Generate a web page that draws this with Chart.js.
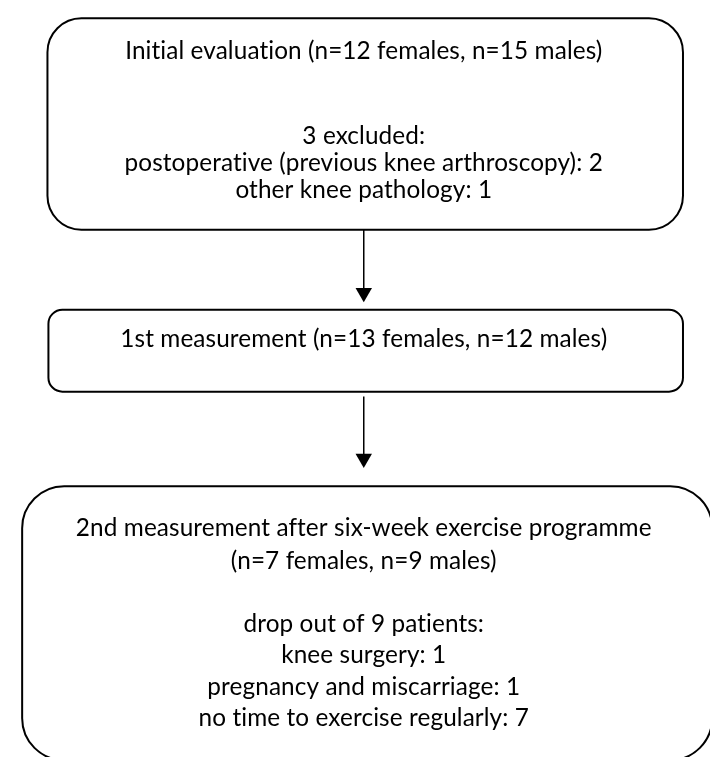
<!DOCTYPE html>
<html>
<head>
<meta charset="utf-8">
<script src="https://cdn.jsdelivr.net/npm/chart.js@4/dist/chart.umd.min.js"></script>
<style>
  html, body { margin: 0; padding: 0; background: #ffffff; }
  #wrap { width: 710px; height: 757px; }
</style>
</head>
<body>
<div id="wrap"><canvas id="c" width="710" height="757"></canvas></div>
<script>
// ---- content (data) ----
const stageTitles = [
  ["Initial evaluation (n=12 females, n=15 males)"],
  ["1st measurement (n=13 females, n=12 males)"],
  ["2nd measurement after six-week exercise programme", "(n=7 females, n=9 males)"]
];
const stageNotes = [
  ["3 excluded:", "postoperative (previous knee arthroscopy): 2", "other knee pathology: 1"],
  [],
  ["drop out of 9 patients:", "knee surgery: 1", "pregnancy and miscarriage: 1", "no time to exercise regularly: 7"]
];

// ---- layout (in chart units of a 710 x 757 layout grid) ----
const layout = [
  { left: 39, right: 692, top: 9,   bottom: 226, radius: 34, titleY: 43,  titleStep: 34, notesY: 130, notesStep: 27.5 },
  { left: 40, right: 692, top: 308, bottom: 392, radius: 14, titleY: 338, titleStep: 34, notesY: 0,   notesStep: 0 },
  { left: 13, right: 722, top: 489, bottom: 770, radius: 42, titleY: 532, titleStep: 34, notesY: 630, notesStep: 32.3 }
];
const centerX = 364;
const arrowGapEnd = [8, 19];
const arrowGapStart = [0, 5];
const arrowHeadR = 9.5;
const refLineWidth = 487; // width of the first title line in layout units

const arrowDatasets = [];
for (let i = 0; i < layout.length - 1; i++) {
  const y0 = layout[i].bottom + arrowGapStart[i];
  const tip = layout[i + 1].top - arrowGapEnd[i];
  arrowDatasets.push({
    data: [{ x: centerX, y: y0 }, { x: centerX, y: tip - arrowHeadR }],
    showLine: true,
    borderColor: '#000',
    borderWidth: 1.5,
    pointRadius: [0, arrowHeadR],
    pointHoverRadius: [0, arrowHeadR],
    pointStyle: 'triangle',
    rotation: 180,
    pointBackgroundColor: '#000',
    pointBorderColor: '#000',
    pointBorderWidth: 0,
    clip: false
  });
}

const FAMILY = 'Lato, "Open Sans", sans-serif';

const boxPlugin = {
  id: 'boxes',
  beforeDatasetsDraw(chart) {
    const ctx = chart.ctx;
    const xs = chart.scales.x, ys = chart.scales.y;
    ctx.save();
    if ('letterSpacing' in ctx) ctx.letterSpacing = '0.1px';
    ctx.font = '100px ' + FAMILY;
    const w100 = ctx.measureText(stageTitles[0][0]).width;
    const targetPx = xs.getPixelForValue(refLineWidth) - xs.getPixelForValue(0);
    const size = 100 * targetPx / w100;
    layout.forEach((b, i) => {
      const l = xs.getPixelForValue(b.left), r = xs.getPixelForValue(b.right);
      const t = ys.getPixelForValue(b.top), bt = ys.getPixelForValue(b.bottom);
      ctx.beginPath();
      ctx.roundRect(l, t, r - l, bt - t, b.radius);
      ctx.fillStyle = '#fff';
      ctx.fill();
      ctx.lineWidth = 2;
      ctx.strokeStyle = '#000';
      ctx.stroke();

      ctx.fillStyle = '#000';
      ctx.font = size.toFixed(2) + 'px ' + FAMILY;
      ctx.textAlign = 'center';
      ctx.textBaseline = 'middle';
      const cx = xs.getPixelForValue(centerX);
      stageTitles[i].forEach((line, k) => {
        ctx.fillText(line, cx, ys.getPixelForValue(b.titleY + k * b.titleStep));
      });
      stageNotes[i].forEach((line, k) => {
        ctx.fillText(line, cx, ys.getPixelForValue(b.notesY + k * b.notesStep));
      });
    });
    ctx.restore();
  }
};

new Chart(document.getElementById('c'), {
  type: 'scatter',
  data: { datasets: arrowDatasets },
  options: {
    responsive: false,
    devicePixelRatio: 1,
    animation: false,
    layout: { padding: 0 },
    plugins: { legend: { display: false }, tooltip: { enabled: false } },
    scales: {
      x: { type: 'linear', min: 0, max: 710, display: false },
      y: { type: 'linear', min: 0, max: 757, reverse: true, display: false }
    }
  },
  plugins: [boxPlugin]
});
</script>
</body>
</html>
